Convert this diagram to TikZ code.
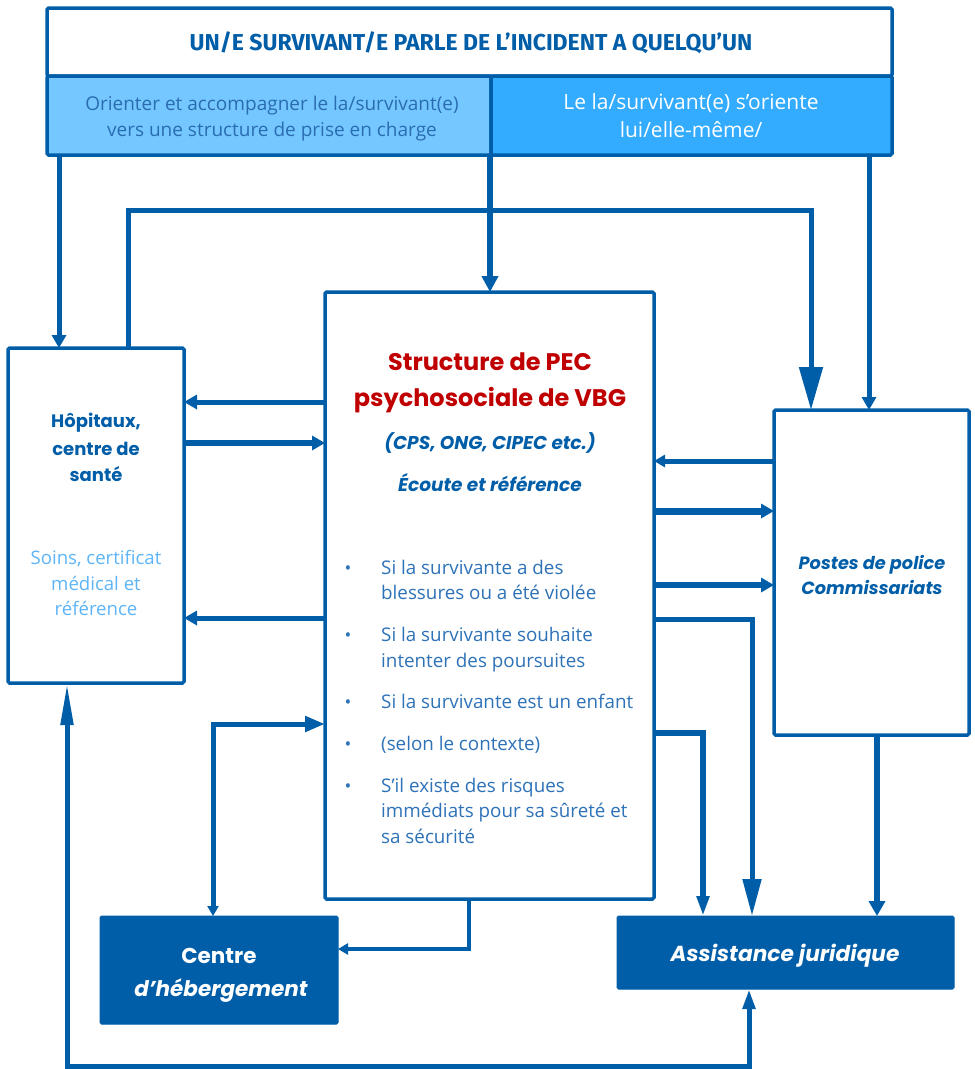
\documentclass[tikz,border=0pt]{standalone}
\usepackage{fontspec}
\setmainfont{Open Sans}
\newfontfamily\titlefont{Poppins}
\newfontfamily\headfont{Fira Sans}
\usetikzlibrary{arrows.meta}
\definecolor{dblue}{HTML}{005EA8}
\definecolor{lcell}{HTML}{75C8FF}
\definecolor{rcell}{HTML}{33ABFF}
\definecolor{titlered}{HTML}{C00000}
\definecolor{txtblue}{HTML}{2E72B8}
\definecolor{soinsblue}{HTML}{5DB5F7}
\definecolor{celltxt}{HTML}{2A6CB2}
\tikzset{
  box/.style={draw=dblue, line width=3.5pt, rounded corners=1.5pt, fill=white, inner sep=0pt, outer sep=0pt},
  fbox/.style={draw=dblue, line width=1pt, rounded corners=1.5pt, fill=dblue, inner sep=0pt, outer sep=0pt},
  conn/.style={draw=dblue, line width=5pt},
  tipS/.style={-{Triangle[length=13pt,width=14pt]}},
  txt/.style={anchor=base, inner sep=0pt},
  ttl/.style={txt, font=\titlefont\bfseries\fontsize{18}{21}\selectfont, text=dblue},
  ttli/.style={txt, font=\titlefont\bfseries\itshape\fontsize{18.5}{21}\selectfont, text=dblue},
  blt/.style={anchor=base west, inner sep=0pt, text=txtblue, font=\fontsize{18.8}{22}\selectfont},
  dot/.style={anchor=base, inner sep=0pt, text=txtblue, font=\fontsize{18}{20}\selectfont}
}
\begin{document}
\begin{tikzpicture}[x=1pt,y=-1pt]
\useasboundingbox (0,0) rectangle (975,1069);
% top block
\node[box, minimum width=845, minimum height=68] (head) at (469.5,42) {};
\node[box, fill=lcell, minimum width=444, minimum height=79] (cellL) at (269,115.5) {};
\node[box, fill=rcell, minimum width=401, minimum height=79] (cellR) at (691.5,115.5) {};
\node[txt, font=\headfont\bfseries\fontsize{23}{26}\selectfont, text=dblue] (headtxt) at (471,50) {UN/E SURVIVANT/E PARLE DE L’INCIDENT A QUELQU’UN};
\node[txt, font=\fontsize{19}{22}\selectfont, text=celltxt] (cl1) at (272,110) {Orienter et accompagner le la/survivant(e)};
\node[txt, font=\fontsize{19}{22}\selectfont, text=celltxt] (cl2) at (272,136) {vers une structure de prise en charge};
\node[txt, font=\fontsize{21}{24}\selectfont, text=white] (cr1) at (691,109) {Le la/survivant(e) s’oriente};
\node[txt, font=\fontsize{21}{24}\selectfont, text=white] (cr2) at (691,137) {lui/elle-même/};
% main boxes
\node[box, minimum width=176, minimum height=335] (hosp) at (96,515.5) {};
\node[box, minimum width=329, minimum height=607] (pec) at (489.5,595.5) {};
\node[box, minimum width=195, minimum height=325] (police) at (871.5,572.5) {};
\node[fbox, minimum width=238, minimum height=108] (heberg) at (219,970) {};
\node[fbox, minimum width=337, minimum height=73] (assist) at (785.5,952.5) {};
% hospital text
\node[ttl] (h1) at (96,427) {Hôpitaux,};
\node[ttl] (h2) at (96,455) {centre de};
\node[ttl] (h3) at (96,481) {santé};
\node[txt, font=\fontsize{18.6}{21}\selectfont, text=soinsblue] (s1) at (96,564) {Soins, certificat};
\node[txt, font=\fontsize{18.6}{21}\selectfont, text=soinsblue] (s2) at (96,590) {médical et};
\node[txt, font=\fontsize{18.6}{21}\selectfont, text=soinsblue] (s3) at (96,615) {référence};
% pec text
\node[txt, font=\titlefont\bfseries\fontsize{24}{28}\selectfont, text=titlered] (p1) at (490,370) {Structure de PEC};
\node[txt, font=\titlefont\bfseries\fontsize{24}{28}\selectfont, text=titlered] (p2) at (490,406) {psychosociale de VBG};
\node[ttli] (p3) at (490,449) {(CPS, ONG, CIPEC etc.)};
\node[ttli] (p4) at (490,491) {Écoute et référence};
\node[dot] (b1) at (348,574) {•};
\node[blt] (l1) at (381,574) {Si la survivante a des};
\node[blt] (l2) at (381,599) {blessures ou a été violée};
\node[dot] (b2) at (348,641) {•};
\node[blt] (l3) at (381,641) {Si la survivante souhaite};
\node[blt] (l4) at (381,667) {intenter des poursuites};
\node[dot] (b3) at (348,708) {•};
\node[blt] (l5) at (381,708) {Si la survivante est un enfant};
\node[dot] (b4) at (348,750) {•};
\node[blt] (l6) at (381,750) {(selon le contexte)};
\node[dot] (b5) at (348,792) {•};
\node[blt] (l7) at (381,792) {S’il existe des risques};
\node[blt] (l8) at (381,817) {immédiats pour sa sûreté et};
\node[blt] (l9) at (381,843) {sa sécurité};
% police text
\node[ttli, font=\titlefont\bfseries\itshape\fontsize{17.7}{21}\selectfont] (po1) at (872,569) {Postes de police};
\node[ttli, font=\titlefont\bfseries\itshape\fontsize{17.7}{21}\selectfont] (po2) at (872,594) {Commissariats};
% filled boxes text
\node[txt, font=\titlefont\bfseries\fontsize{21.5}{24}\selectfont, text=white] (hb1) at (219,963) {Centre};
\node[txt, font=\titlefont\bfseries\itshape\fontsize{21.5}{24}\selectfont, text=white] (hb2) at (221,996) {d’hébergement};
\node[txt, font=\titlefont\bfseries\itshape\fontsize{21.7}{24}\selectfont, text=white] (as1) at (785,961) {Assistance juridique};
% connectors from the top block
\draw[conn, tipS] (59,0 |- cellL.south) -- (59,0 |- hosp.north);
\draw[conn, line width=6pt, -{Triangle[length=16pt,width=16pt]}] (490,0 |- cellL.south) -- (490,0 |- pec.north);
\draw[conn, tipS] (869,0 |- cellR.south) -- (869,0 |- police.north);
\draw[conn, -{Triangle[length=43pt,width=23pt]}] (128,0 |- hosp.north) -- (128,210) -- (811,210) -- (811,0 |- police.north);
% hospital <-> pec
\draw[conn, tipS] (pec.west |- 0,402) -- (hosp.east |- 0,402);
\draw[conn, line width=6pt, tipS] (hosp.east |- 0,443) -- (pec.west |- 0,443);
\draw[conn, tipS] (pec.west |- 0,618) -- (hosp.east |- 0,618);
% police <-> pec
\draw[conn, -{Triangle[length=11pt,width=12pt]}] (police.west |- 0,461) -- (pec.east |- 0,461);
\draw[conn, line width=7pt, tipS] (pec.east |- 0,511) -- (police.west |- 0,511);
\draw[conn, line width=6pt, tipS] (pec.east |- 0,585) -- (police.west |- 0,585);
% to assistance
\draw[conn, -{Triangle[length=37pt,width=18pt]}] (pec.east |- 0,619) -- (752,619) -- (752,0 |- assist.north);
\draw[conn, line width=6pt, -{Triangle[length=20pt,width=12pt]}] (pec.east |- 0,733) -- (703,733) -- (703,0 |- assist.north);
\draw[conn, line width=6pt, -{Triangle[length=15pt,width=16pt]}] (877,0 |- police.south) -- (877,0 |- assist.north);
% hebergement
\draw[conn, line width=4pt, -{Triangle[length=10pt,width=11pt]}] (469,0 |- pec.south) -- (469,949) -- (heberg.east |- 0,949);
\draw[conn, {Triangle[length=10pt,width=11pt]}-{Triangle[length=20pt,width=15pt]}] (213,0 |- heberg.north) -- (213,724) -- (pec.west |- 0,724);
% bottom loop
\draw[conn, {Triangle[length=20pt,width=12pt]}-{Triangle[length=42pt,width=12pt]}] (749,0 |- assist.south) -- (749,1066) -- (67,1066) -- (67,0 |- hosp.south);
\end{tikzpicture}
\end{document}
